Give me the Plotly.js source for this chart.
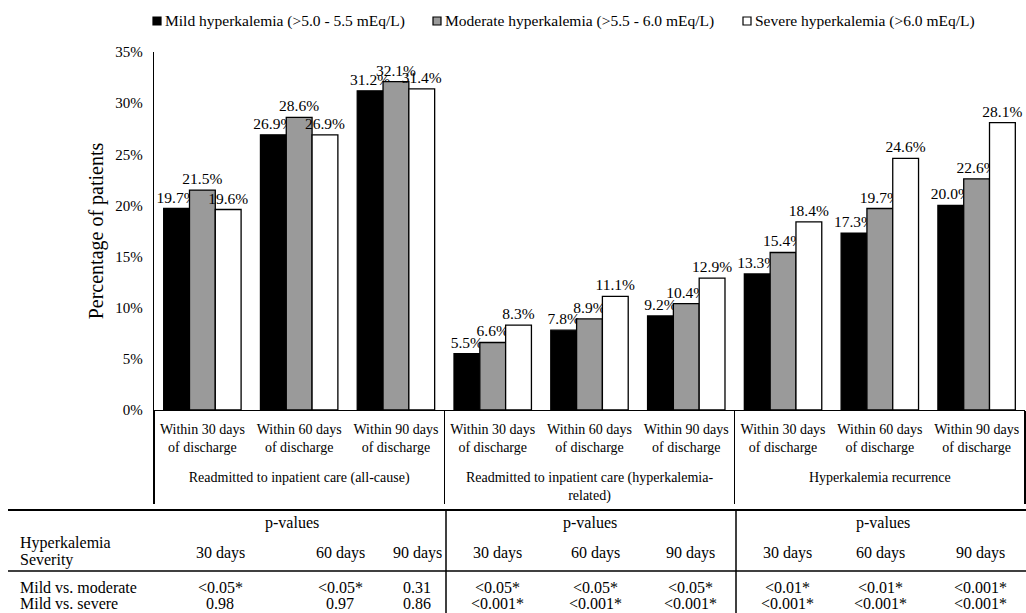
<!DOCTYPE html>
<html>
<head>
<meta charset="utf-8">
<script src="https://cdn.plot.ly/plotly-3.0.1.min.js"></script>
<style>
  html, body { margin: 0; padding: 0; background: #fff; }
  #chart { width: 1026px; height: 613px; }
</style>
</head>
<body>
<div id="chart"></div>
<script>
// ---- data ----
const groups = [
  "Readmitted to inpatient care (all-cause)",
  "Readmitted to inpatient care (hyperkalemia-<br>related)",
  "Hyperkalemia recurrence"
];
const timeframes = [
  "Within 30 days<br>of discharge",
  "Within 60 days<br>of discharge",
  "Within 90 days<br>of discharge"
];
const seriesNames = [
  "Mild hyperkalemia (>5.0 - 5.5 mEq/L)",
  "Moderate hyperkalemia (>5.5 - 6.0 mEq/L)",
  "Severe hyperkalemia (>6.0 mEq/L)"
];
const mild     = [19.7, 26.9, 31.2, 5.5, 7.8, 9.2, 13.3, 17.3, 20.0];
const moderate = [21.5, 28.6, 32.1, 6.6, 8.9, 10.4, 15.4, 19.7, 22.6];
const severe   = [19.6, 26.9, 31.4, 8.3, 11.1, 12.9, 18.4, 24.6, 28.1];
const yTickVals = [0, 5, 10, 15, 20, 25, 30, 35];

// table data
const tableGroupHeader = "p-values";
const tableRowHeader = ["Hyperkalemia", "Severity"];
const tableColumns = ["30 days", "60 days", "90 days", "30 days", "60 days", "90 days", "30 days", "60 days", "90 days"];
const rowLabels = ["Mild vs. moderate", "Mild vs. severe"];
const pMildModerate = ["<0.05*", "<0.05*", "0.31", "<0.05*", "<0.05*", "<0.05*", "<0.01*", "<0.01*", "<0.001*"];
const pMildSevere   = ["0.98", "0.97", "0.86", "<0.001*", "<0.001*", "<0.001*", "<0.001*", "<0.001*", "<0.001*"];

// ---- layout helpers (pixel -> paper) ----
const L = 154, R = 1025, T = 52, B = 410;
const PW = R - L, PH = B - T;
const px = p => (p - L) / PW;
const py = p => (B - p) / PH;

const FONT = "Liberation Serif, Times New Roman, serif";

const xGroup = [], xCat = [];
groups.forEach(g => timeframes.forEach(t => { xGroup.push("<br>" + g); xCat.push(t); }));
const xVals = [xGroup, xCat];

const fills = ["#000000", "#9a9a9a", "#ffffff"];
const seriesVals = [mild, moderate, severe];

const traces = seriesVals.map((vals, i) => ({
  type: "bar",
  name: seriesNames[i],
  x: xVals,
  y: vals,
  marker: { color: fills[i], line: { color: "#000", width: 1.3 } },
  texttemplate: "%{y:.1f}%",
  textposition: "outside",
  constraintext: "none",
  cliponaxis: false,
  textfont: { family: FONT, size: 15.5, color: "#000" },
  hoverinfo: "y",
  showlegend: false
}));

const annotations = [];
const shapes = [];
const TFONT = { family: FONT, size: 16, color: "#000" };
const ann = (text, xp, yp, opts = {}) => annotations.push(Object.assign({
  text: text, xref: "paper", yref: "paper", x: px(xp), y: py(yp),
  xanchor: "center", yanchor: "middle", showarrow: false,
  font: TFONT
}, opts));

// legend (squares + labels) placed above the plot
const legendSquareX = [153, 433, 743];
seriesNames.forEach((name, i) => {
  const x0 = legendSquareX[i];
  shapes.push({
    type: "rect", xref: "paper", yref: "paper",
    x0: px(x0), x1: px(x0 + 8), y0: py(25), y1: py(17),
    fillcolor: fills[i], line: { color: "#000", width: 1.2 }
  });
  ann(name, x0 + 10, 21, { xanchor: "left", font: { family: FONT, size: 15.5, color: "#000" } });
});

// table header
const groupHeaderX = [292, 590, 883];
groupHeaderX.forEach(x => ann(tableGroupHeader, x, 523));
ann(tableRowHeader[0], 18, 543, { xanchor: "left" });
ann(tableRowHeader[1], 18, 560, { xanchor: "left" });
const colX = [220, 340, 417, 497, 595, 690, 787, 880, 980];
tableColumns.forEach((c, i) => ann(c, colX[i], 553));
ann(rowLabels[0], 18, 587, { xanchor: "left" });
ann(rowLabels[1], 18, 603, { xanchor: "left" });
pMildModerate.forEach((v, i) => ann(v, colX[i], 587));
pMildSevere.forEach((v, i) => ann(v, colX[i], 603));

const line = (x0, y0, x1, y1, w) => shapes.push({
  type: "line", xref: "paper", yref: "paper",
  x0: px(x0), y0: py(y0), x1: px(x1), y1: py(y1),
  line: { color: "#000", width: w }
});
line(8, 510, 1026, 510, 2);
line(8, 571, 1026, 571, 1.5);
line(446, 510, 446, 613, 1.5);
line(736, 510, 736, 613, 1.5);

const layout = {
  width: 1026, height: 613,
  margin: { l: L, r: 1026 - R, t: T, b: 613 - B, pad: 0 },
  paper_bgcolor: "#fff", plot_bgcolor: "#fff",
  font: { family: FONT, size: 14, color: "#000" },
  barmode: "group", bargap: 0.2, bargroupgap: 0,
  showlegend: false,
  xaxis: {
    type: "multicategory",
    showline: true, linecolor: "#000", linewidth: 1.3,
    ticks: "", showgrid: false, zeroline: false,
    showdividers: true, dividercolor: "#000", dividerwidth: 1.3,
    ticklabelstandoff: 6,
    tickfont: { family: FONT, size: 14, color: "#000" },
    automargin: false
  },
  yaxis: {
    range: [0, 35], tickvals: yTickVals, ticktext: yTickVals.map(v => v + "%"),
    showline: true, linecolor: "#000", linewidth: 1.3,
    ticks: "", showgrid: false, zeroline: false,
    ticklabelstandoff: 7,
    tickfont: { family: FONT, size: 15, color: "#000" },
    title: { text: "Percentage of patients", font: { family: FONT, size: 20, color: "#000" }, standoff: 6 },
    automargin: false
  },
  annotations: annotations,
  shapes: shapes
};

Plotly.newPlot("chart", traces, layout, { displayModeBar: false, staticPlot: true });
</script>
</body>
</html>
